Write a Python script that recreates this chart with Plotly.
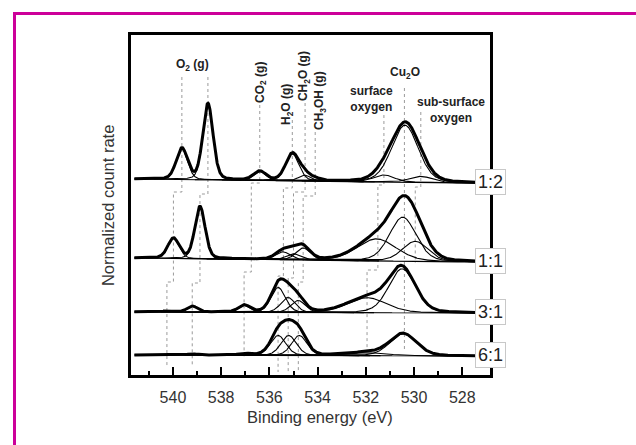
import numpy as np
import plotly.graph_objects as go

# ---------------- data ----------------
SAMPLES = ["1:2", "1:1", "3:1", "6:1"]
BASE_LEFT = [196, 117, 63, 20]     # baseline level at high-energy end (arb. units)
BASE_RIGHT = [192, 113, 62, 19]    # baseline level at low-energy end

# fitted components per sample: centre (eV), height (arb.), FWHM (eV)
C12_CENTER = [539.63, 538.55, 536.40, 535.05, 534.55, 534.10, 531.25, 530.38, 529.72]
C12_HEIGHT = [31, 76, 9, 27, 6, 2, 7, 57, 6]
C12_FWHM = [0.55, 0.50, 0.60, 0.65, 0.55, 0.55, 1.00, 1.30, 1.10]

C11_CENTER = [539.98, 538.88, 535.45, 535.00, 534.60, 531.55, 530.47, 529.95]
C11_HEIGHT = [20, 52, 8, 6, 12, 22, 44, 20]
C11_FWHM = [0.55, 0.50, 0.70, 0.70, 0.70, 1.90, 1.30, 1.25]

C31_CENTER = [540.25, 539.20, 537.05, 535.64, 535.23, 534.81, 531.95, 530.50]
C31_HEIGHT = [1, 6, 7, 25, 15, 12, 15, 44]
C31_FWHM = [0.50, 0.50, 0.55, 0.70, 0.70, 0.70, 1.90, 1.30]

C61_CENTER = [539.20, 537.05, 535.64, 535.20, 534.76, 532.00, 530.45]
C61_HEIGHT = [1.2, 1.5, 20, 20, 20, 3, 22]
C61_FWHM = [0.50, 0.55, 0.75, 0.75, 0.75, 2.00, 1.30]

COMPONENTS = [
    (C12_CENTER, C12_HEIGHT, C12_FWHM),
    (C11_CENTER, C11_HEIGHT, C11_FWHM),
    (C31_CENTER, C31_HEIGHT, C31_FWHM),
    (C61_CENTER, C61_HEIGHT, C61_FWHM),
]

# peak-assignment guide lines: energies in each spectrum, and y levels (top, jogs..., bottom)
GUIDE_ENERGY = {
    "O2a": [539.63, 539.98, 540.25],
    "O2b": [538.55, 538.88, 539.20],
    "CO2": [536.40, 536.75, 537.05],
    "H2O": [535.05, 535.42, 535.64],
    "CH2O": [534.52, 535.00, 535.22],
    "CH3OH": [534.10, 534.60, 534.80],
    "surf": [531.25, 531.50, 531.95],
    "Cu2O": [530.40],
    "sub": [529.72, 529.95],
}
GUIDE_Y = {
    "O2a": [298, 183, 93, 7],
    "O2b": [298, 181, 92, 8],
    "CO2": [270, 192, 103, 18],
    "H2O": [255, 187, 99, 3],
    "CH2O": [278, 183, 97, 3],
    "CH3OH": [243, 179, 93, 3],
    "surf": [260, 190, 105, 25],
    "Cu2O": [287, 25],
    "sub": [263, 188, 112],
}

PEAK_LABELS = ["O<sub>2</sub> (g)", "CO<sub>2</sub> (g)", "H<sub>2</sub>O (g)", "CH<sub>2</sub>O (g)",
               "CH<sub>3</sub>OH (g)", "surface<br>oxygen", "Cu<sub>2</sub>O", "sub-surface<br>oxygen"]
LABEL_E = [539.17, 536.35, 535.27, 534.56, 533.90, 531.78, 530.37, 528.46]
LABEL_Y = [310, 293, 271, 299, 274, 276, 302, 265]
LABEL_ANGLE = [0, -90, -90, -90, -90, 0, 0, 0]

TICKS_MAJOR = [540, 538, 536, 534, 532, 530, 528]
TICKS_MINOR = [541, 539, 537, 535, 533, 531, 529]

E_MIN, E_MAX = 527.45, 541.60
X = np.linspace(E_MAX, E_MIN, 1416)


def pvoigt(x, c, h, w, eta=0.22):
    d = (x - c) / w
    g = np.exp(-4 * np.log(2) * d * d)
    lo = 1.0 / (1.0 + 4 * d * d)
    return h * (eta * lo + (1 - eta) * g)


fig = go.Figure()

# guide lines
for key, es in GUIDE_ENERGY.items():
    ys = GUIDE_Y[key]
    gx, gy = [], []
    for i, e in enumerate(es):
        gx += [e, e]
        gy += [ys[i], ys[i + 1]]
    fig.add_trace(go.Scatter(x=gx, y=gy, mode="lines",
                             line=dict(color="#9a9a9a", width=1, dash="dot"),
                             hoverinfo="skip"))

# spectra
for i, name in enumerate(SAMPLES):
    bl, br = BASE_LEFT[i], BASE_RIGHT[i]
    base = br + (bl - br) * (X - E_MIN) / (E_MAX - E_MIN)
    cs, hs, ws = COMPONENTS[i]
    total = base.copy()
    fig.add_trace(go.Scatter(x=X, y=base, mode="lines",
                             line=dict(color="black", width=1.2), hoverinfo="skip"))
    for c, h, w in zip(cs, hs, ws):
        comp = pvoigt(X, c, h, w)
        total = total + comp
        mask = np.abs(X - c) < 4.5 * w
        fig.add_trace(go.Scatter(x=X[mask], y=(base + comp)[mask], mode="lines",
                                 line=dict(color="black", width=1.1), hoverinfo="skip"))
    fig.add_trace(go.Scatter(x=X, y=total, mode="lines",
                             line=dict(color="black", width=3), hoverinfo="skip"))
    # sample label box
    fig.add_annotation(x=1.0, xref="paper", y=br + 1, yref="y", text=name, showarrow=False,
                       font=dict(size=18, color="#222", family="Liberation Sans, Arial"),
                       bgcolor="white", bordercolor="#c8c8c8", borderwidth=1, borderpad=2,
                       xanchor="center", yanchor="middle")

for t, e, y, a in zip(PEAK_LABELS, LABEL_E, LABEL_Y, LABEL_ANGLE):
    fig.add_annotation(x=e, y=y, xref="x", yref="y",
                       text="<b>" + t.replace("<br>", "</b><br><b>") + "</b>",
                       showarrow=False, textangle=a,
                       font=dict(size=12, color="#222", family="Liberation Sans, Arial"),
                       xanchor="center", yanchor="middle")

# axis titles as annotations
fig.add_annotation(x=-0.064, y=0.497, xref="paper", yref="paper", text="Normalized count rate",
                   textangle=-90, showarrow=False, xanchor="center", yanchor="middle",
                   font=dict(size=16.5, color="#333", family="Liberation Sans, Arial"))
fig.add_annotation(x=0.526, y=-0.124, xref="paper", yref="paper", text="Binding energy (eV)",
                   showarrow=False, xanchor="center", yanchor="middle",
                   font=dict(size=16.5, color="#333", family="Liberation Sans, Arial"))

# magenta frame
MAG = "#CC0099"
fig.add_shape(type="line", xref="paper", yref="paper", x0=-0.3287, x1=1.42, y0=1.0632, y1=1.0632,
              line=dict(color=MAG, width=3))
fig.add_shape(type="line", xref="paper", yref="paper", x0=-0.3245, x1=-0.3245, y0=1.0676, y1=-0.23,
              line=dict(color=MAG, width=3))

fig.update_layout(
    width=636, height=445,
    margin=dict(l=131, r=146, t=35, b=70),
    plot_bgcolor="white", paper_bgcolor="white",
    showlegend=False,
    xaxis=dict(range=[541.74, 526.85], showgrid=False, zeroline=False,
               showline=True, linecolor="black", linewidth=2.5, mirror=True,
               tickvals=TICKS_MAJOR, ticktext=[str(v) for v in TICKS_MAJOR],
               ticks="inside", ticklen=8, tickwidth=2, tickcolor="black",
               minor=dict(tickvals=TICKS_MINOR, ticks="inside",
                          ticklen=4, tickwidth=2, tickcolor="black"),
               ticklabelstandoff=6,
               tickfont=dict(size=16, color="#333", family="Liberation Sans, Arial")),
    yaxis=dict(range=[0, 340], showgrid=False, zeroline=False, showline=True,
               linecolor="black", linewidth=2.5, mirror=True, showticklabels=False, ticks=""),
)

fig.write_html("out.html")
